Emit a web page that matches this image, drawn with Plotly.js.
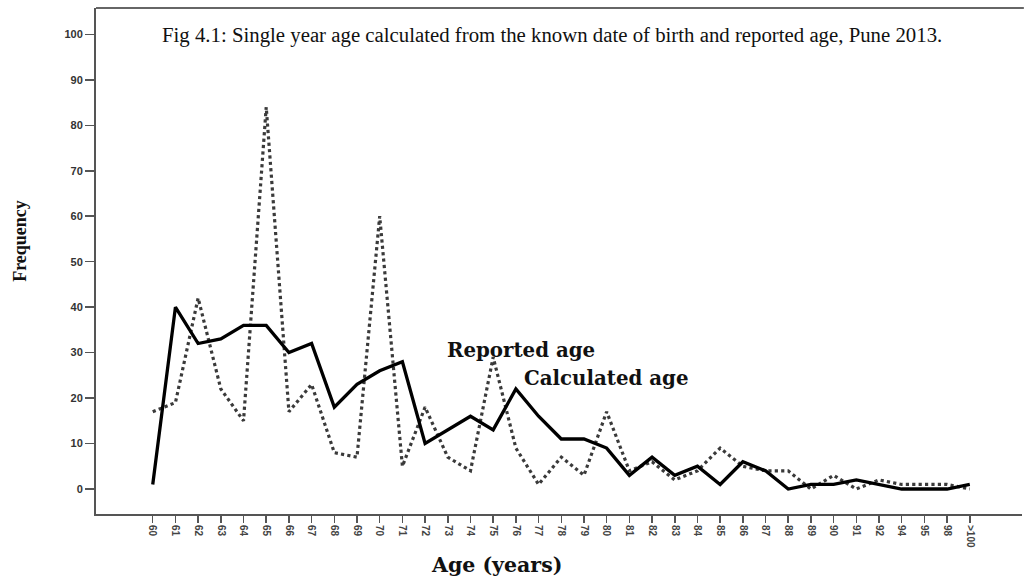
<!DOCTYPE html>
<html>
<head>
<meta charset="utf-8">
<script src="https://cdn.plot.ly/plotly-3.0.1.min.js"></script>
<style>html,body{margin:0;padding:0;background:#fff;}#chart{width:1024px;height:580px;}</style>
</head>
<body>
<div id="chart"></div>
<script>
const ageLabels = ["60","61","62","63","64","65","66","67","68","69","70","71","72","73","74","75","76","77","78","79","80","81","82","83","84","85","86","87","88","89","90","91","92","94","95","98",">100"];
const calculatedAge = [1,40,32,33,36,36,30,32,18,23,26,28,10,13,16,13,22,16,11,11,9,3,7,3,5,1,6,4,0,1,1,2,1,0,0,0,1];
const reportedAge = [17,19,42,22,15,84,17,23,8,7,60,5,18,7,4,29,9,1,7,3,17,4,6,2,4,9,5,4,4,0,3,0,2,1,1,1,0];
const yTicks = [0,10,20,30,40,50,60,70,80,90,100];

const serif = "Liberation Serif, Times New Roman, serif";
const wideSerif = "DejaVu Serif, Liberation Serif, serif";
const sans = "Liberation Sans, Arial, sans-serif";

const traces = [
  {x: ageLabels, y: reportedAge, type: 'scatter', mode: 'lines', name: 'Reported age',
   line: {color: '#3a3a3a', width: 3.2, dash: 'dot'}},
  {x: ageLabels, y: calculatedAge, type: 'scatter', mode: 'lines', name: 'Calculated age',
   line: {color: '#000000', width: 3.3}}
];

const layout = {
  width: 1024, height: 580,
  margin: {l: 96, r: 2, t: 8, b: 66},
  paper_bgcolor: '#ffffff', plot_bgcolor: '#ffffff',
  showlegend: false,
  xaxis: {
    type: 'category', categoryorder: 'array', categoryarray: ageLabels,
    range: [-2.5, 38.3], showgrid: false, zeroline: false,
    showline: true, linecolor: '#555555', linewidth: 2,
    ticks: 'outside', ticklen: 7, tickcolor: '#555555', tickwidth: 1.5,
    tickangle: 90, tickfont: {family: sans, size: 10, color: '#444444', weight: 'bold'}
  },
  yaxis: {
    range: [-5.5, 105.8], tickvals: yTicks, ticktext: yTicks.map(String),
    showgrid: false, zeroline: false,
    showline: true, linecolor: '#555555', linewidth: 2,
    ticks: 'outside', ticklen: 9, tickcolor: '#555555', tickwidth: 1.5,
    tickfont: {family: sans, size: 11, color: '#333333', weight: 'bold'}
  },
  shapes: [
    {type: 'line', xref: 'paper', yref: 'paper', x0: 0, x1: 1.002, y0: 1, y1: 1,
     line: {color: '#666666', width: 2}}
  ],
  annotations: [
    {xref: 'paper', yref: 'paper', x: 0.069, y: 0.947, xanchor: 'left', yanchor: 'middle', showarrow: false,
     text: 'Fig 4.1: Single year age calculated from the known date of birth and reported age, Pune 2013.',
     font: {family: serif, size: 20.8, color: '#111111'}},
    {xref: 'paper', yref: 'paper', x: 0.459, y: 0.324, xanchor: 'center', yanchor: 'middle', showarrow: false,
     text: '<b>Reported age</b>', font: {family: wideSerif, size: 19.8, color: '#111111'}},
    {xref: 'paper', yref: 'paper', x: 0.551, y: 0.269, xanchor: 'center', yanchor: 'middle', showarrow: false,
     text: '<b>Calculated age</b>', font: {family: wideSerif, size: 19.8, color: '#111111'}},
    {xref: 'paper', yref: 'paper', x: -0.082, y: 0.54, xanchor: 'center', yanchor: 'middle', showarrow: false,
     textangle: -90, text: '<b>Frequency</b>', font: {family: serif, size: 18, color: '#111111'}},
    {xref: 'paper', yref: 'paper', x: 0.433, y: -0.101, xanchor: 'center', yanchor: 'middle', showarrow: false,
     text: '<b>Age (years)</b>', font: {family: wideSerif, size: 20.5, color: '#111111'}}
  ]
};

Plotly.newPlot('chart', traces, layout, {displayModeBar: false, staticPlot: true});
</script>
</body>
</html>
